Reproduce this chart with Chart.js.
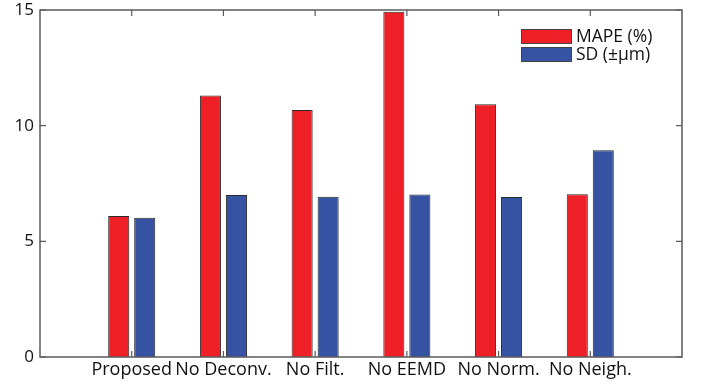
<!DOCTYPE html>
<html>
<head>
<meta charset="utf-8">
<script src="https://cdn.jsdelivr.net/npm/chart.js@4"></script>
<style>
  html, body { margin: 0; padding: 0; background: #fff; }
  #wrap { width: 702px; height: 385px; }
</style>
</head>
<body>
<div id="wrap"><canvas id="chart" width="702" height="385"></canvas></div>
<script>
const categories = ["Proposed", "No Deconv.", "No Filt.", "No EEMD", "No Norm.", "No Neigh."];
const mapeValues = [6.1, 11.3, 10.68, 14.92, 10.93, 7.03];
const sdValues = [6.02, 7.0, 6.93, 7.02, 6.92, 8.94];
const yTicks = [0, 5, 10, 15];

// empty slots at both ends so the axis runs 0..7 like the matlab plot
const labels = ["", ...categories, ""];
const pad = (arr) => [null, ...arr, null];

const FONT = "'Open Sans', sans-serif";

// box + inward tick marks + legend in the top right corner
const matlabAxes = {
  id: "matlabAxes",
  afterDraw(chart) {
    const { ctx, chartArea: a, scales } = chart;
    ctx.save();
    ctx.strokeStyle = "#5a5a5a";
    ctx.lineWidth = 1.5;
    ctx.strokeRect(a.left, a.top, a.right - a.left, a.bottom - a.top);
    ctx.lineWidth = 1.2;
    ctx.beginPath();
    yTicks.forEach((v) => {
      const y = scales.y.getPixelForValue(v);
      ctx.moveTo(a.left, y); ctx.lineTo(a.left + 6, y);
      ctx.moveTo(a.right, y); ctx.lineTo(a.right - 6, y);
    });
    categories.forEach((c, i) => {
      const x = scales.x.getPixelForValue(i + 1);
      ctx.moveTo(x, a.bottom); ctx.lineTo(x, a.bottom - 6);
      ctx.moveTo(x, a.top); ctx.lineTo(x, a.top + 6);
    });
    ctx.stroke();

    // legend
    ctx.font = "17.5px " + FONT;
    ctx.textBaseline = "middle";
    chart.data.datasets.forEach((ds, i) => {
      const bx = a.right - 161, by = a.top + 19 + i * 18;
      ctx.fillStyle = ds.backgroundColor;
      ctx.fillRect(bx, by, 51, 15);
      ctx.strokeStyle = "#444";
      ctx.lineWidth = 1;
      ctx.strokeRect(bx + 0.5, by + 0.5, 50, 14);
      ctx.fillStyle = "#111";
      ctx.fillText(ds.label, bx + 55, by + 8);
    });
    ctx.restore();
  }
};

new Chart(document.getElementById("chart").getContext("2d"), {
  type: "bar",
  data: {
    labels,
    datasets: [
      {
        label: "MAPE (%)",
        data: pad(mapeValues),
        backgroundColor: "#ee1f26",
        borderColor: "#2a2a2a",
        borderWidth: 1,
        borderSkipped: "bottom"
      },
      {
        label: "SD (\u00b1\u00b5m)",
        data: pad(sdValues),
        backgroundColor: "#3653a3",
        borderColor: "#2a2a2a",
        borderWidth: 1,
        borderSkipped: "bottom"
      }
    ]
  },
  options: {
    responsive: false,
    animation: false,
    categoryPercentage: 0.567,
    barPercentage: 0.81,
    layout: { padding: { top: 10, right: 20, left: 0, bottom: 0 } },
    plugins: {
      tooltip: { enabled: false },
      legend: { display: false }
    },
    scales: {
      x: {
        offset: false,
        grid: { display: false, drawTicks: false },
        border: { display: false },
        ticks: {
          font: { family: FONT, size: 18 },
          color: "#111",
          maxRotation: 0,
          autoSkip: false,
          padding: 2
        },
        afterFit(scale) {
          scale.height = 28;
          scale.paddingLeft = 0;
          scale.paddingRight = 0;
        }
      },
      y: {
        min: 0,
        max: 15,
        afterBuildTicks(scale) { scale.ticks = yTicks.map((v) => ({ value: v })); },
        grid: { display: false, drawTicks: false },
        border: { display: false },
        ticks: {
          font: { family: FONT, size: 17 },
          color: "#111",
          padding: 6
        },
        afterFit(scale) {
          scale.width = 40;
          scale.paddingTop = 0;
          scale.paddingBottom = 0;
        }
      }
    }
  },
  plugins: [matlabAxes]
});
</script>
</body>
</html>
